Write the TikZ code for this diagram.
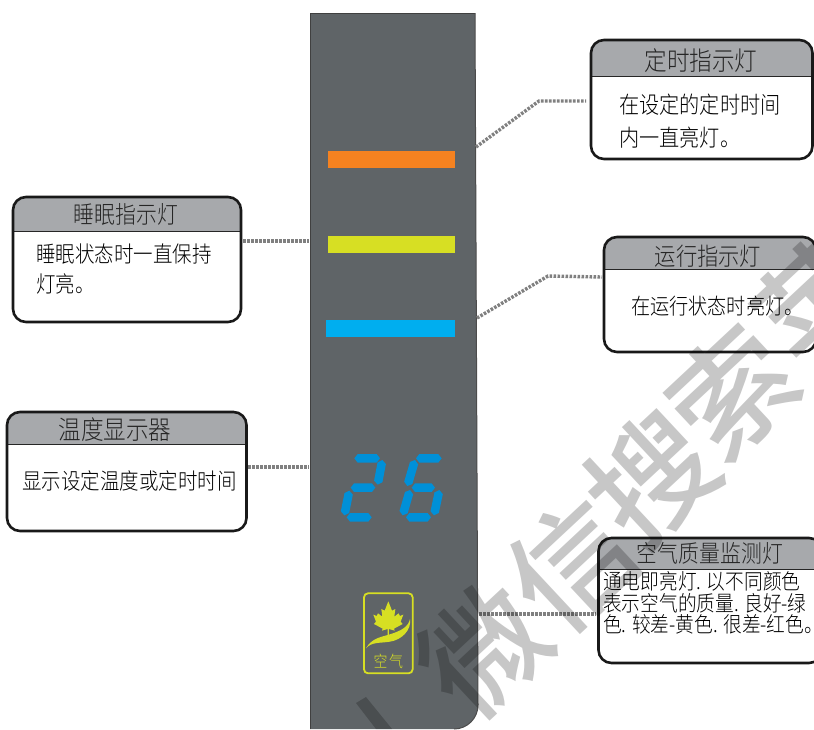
\documentclass[tikz,border=0pt]{standalone}
\usepackage{fontspec}
\usetikzlibrary{calc}
\newfontfamily\cjk{Noto Sans CJK SC Light}[FakeStretch=0.87]
\newfontfamily\cjkwm{Noto Sans CJK SC Medium}
\definecolor{panelc}{HTML}{5F6467}
\definecolor{headc}{HTML}{A7A9AC}
\definecolor{segc}{HTML}{0090D8}
\definecolor{logoc}{HTML}{D7DF23}
\newcommand\segm[2]{\fill[segc] (#1) -- ($(#1)!5.4pt!52:(#2)$) -- ($(#2)!5.4pt!-52:(#1)$) -- (#2) -- ($(#2)!5.4pt!52:(#1)$) -- ($(#1)!5.4pt!-52:(#2)$) -- cycle;}
\newcommand\cjksize[2]{\cjk\fontsize{#1}{#2}\selectfont}
\newcommand\infobox[9]{%
  % name, left, top, right, bottom, header bottom, title, title position, title size
  \node[boxshape, minimum width=#4pt-#2pt, minimum height=#5pt-#3pt] (#1) at ({(#2+#4)/2},{(#3+#5)/2}) {};
  \begin{scope}
    \clip[rounded corners=13pt] (#2,#3) rectangle (#4,#5);
    \fill[headc] (#2,#3) rectangle (#4,#6);
    \draw[line width=1pt,black!85] (#2,#6) -- (#4,#6);
  \end{scope}
  \draw[boxline, rounded corners=13pt] (#2,#3) rectangle (#4,#5);
  \node[titletext,font=\cjksize{#9}{30}] (#1t) at (#8) {#7};
}
\tikzset{
  x=1pt,y=-1pt,
  boxshape/.style={inner sep=0pt,outer sep=0pt,fill=white,rounded corners=13pt},
  boxline/.style={line width=2.6pt,draw=black!90},
  titletext/.style={text=black!85,inner sep=0pt},
  bodytext/.style={text=black,inner sep=0pt,anchor=north west,align=left},
  dots/.style={draw=black!50,line width=3.4pt,dash pattern=on 2.6pt off 1.4pt},
  lamp/.style={inner sep=0pt,outer sep=0pt,minimum height=17pt},
  wm/.style={font=\cjkwm\fontsize{122}{122}\selectfont,text=black,opacity=.22,rotate=43,inner sep=0pt},
}
\begin{document}
\begin{tikzpicture}
\useasboundingbox (0,0) rectangle (814,729);
\fill[white] (0,0) rectangle (814,729);
% panel
\fill[panelc] (310,13) -- (475,13) -- (478,705) arc[start angle=0,end angle=90,radius=24] -- (310,729) -- cycle;
\draw[line width=1pt,black!75] (310,729) -- (310,13) -- (475,13);
\draw[line width=1pt,black!70] (475,13) -- (478,705) arc[start angle=0,end angle=90,radius=24];
\coordinate (pL1) at (309,241);
\coordinate (pL2) at (309,467);
\coordinate (pR1) at (476,147);
\coordinate (pR2) at (477,318);
\coordinate (pR3) at (479,614);
% lamps
\node[lamp,fill={rgb,255:red,245;green,130;blue,32},minimum width=127pt] (lampA) at (391.5,159.5) {};
\node[lamp,fill=logoc,minimum width=127pt] (lampB) at (391.5,244.5) {};
\node[lamp,fill={rgb,255:red,0;green,174;blue,239},minimum width=129pt] (lampC) at (390.5,328.5) {};
% digits and logo (zoom coordinates)
\begin{scope}[shift={(300,440)},x=.3333pt,y=-.3333pt]
  \segm{163,55}{240,55}
  \segm{247,60}{233,134}
  \segm{152,143}{226,143}
  \segm{148,152}{133,226}
  \segm{140,232}{215,232}
  \segm{348,55}{425,55}
  \segm{345,60}{322,138}
  \segm{335,143}{405,143}
  \segm{418,150}{402,226}
  \segm{330,150}{308,226}
  \segm{318,232}{393,232}
  \draw[logoc,line width=1.8pt,rounded corners=4pt] (192,460) rectangle (338,700);
  \fill[logoc] (265,484) -- (276,512) -- (286,507) -- (283,530) -- (296,520) -- (300,528) -- (310,524) -- (302,545) -- (308,552) -- (282,566) -- (284,572) -- (267,567) -- (267,590) -- (263,590) -- (263,567) -- (246,572) -- (248,566) -- (222,552) -- (228,545) -- (220,524) -- (230,528) -- (234,520) -- (247,530) -- (244,507) -- (254,512) -- cycle;
  \fill[logoc] (198,625) .. controls (215,595) and (240,592) .. (270,583) .. controls (305,572) and (325,560) .. (330,537) .. controls (335,570) and (305,600) .. (270,605) .. controls (240,610) and (215,605) .. (198,625) -- cycle;
  \node[font=\cjksize{16}{16},text=logoc,inner sep=0pt] (logot) at (265,663) {空\hspace{1.5pt}气};
\end{scope}
% connectors
\coordinate (eT) at (586,101); \coordinate (bT) at (539,101);
\coordinate (eY) at (602,277); \coordinate (bY) at (548,276);
\coordinate (eS) at (243,241);
\coordinate (eW) at (248,467);
\coordinate (eK) at (596,614);
\draw[dots] (pR1) -- (bT) -- (eT);
\draw[dots] (pR2) -- (bY) -- (eY);
\draw[dots] (eS) -- (pL1);
\draw[dots] (eW) -- (pL2);
\draw[dots] (pR3) -- (eK);
% boxes
\infobox{boxS}{13}{197}{241}{322}{231}{睡眠指示灯}{126,214}{24}
\node[bodytext,font=\cjksize{22.4}{30}] (boxSb) at (36,244) {睡眠状态时一直保持\\灯亮。};
\infobox{boxW}{7}{412}{246.5}{531}{444}{温度显示器}{115,430}{26}
\node[bodytext,anchor=west,font=\cjksize{22.4}{30}] (boxWb) at (22,481) {显示设定温度或定时时间};
\infobox{boxT}{591}{40}{812.5}{159}{76}{定时指示灯}{701,61}{26}
\node[bodytext,font=\cjksize{23.2}{33}] (boxTb) at (619,94) {在设定的定时时间\\内一直亮灯。};
\infobox{boxY}{604}{237}{816}{352}{269}{运行指示灯}{708,256}{24.5}
\node[bodytext,anchor=west,font=\cjksize{22}{30}] (boxYb) at (631,306.5) {在运行状态时亮灯。};
\infobox{boxK}{598.5}{538}{822}{663}{569}{空气质量监测灯}{710,553}{24}
\node[bodytext,font=\cjksize{21.5}{21.6}] (boxKb) at (603,571.5) {通电即亮灯. 以不同颜色\\表示空气的质量. 良好-绿\\色. 较差-黄色. 很差-红色。};
% watermark
\node[wm] (wmA) at (484,650) {微};
\node[wm] (wmB) at (572,565) {信};
\node[wm] (wmC) at (652,478) {搜};
\node[wm] (wmD) at (732,392) {索};
\node[wm] (wmE) at (820,302) {苹};
\fill[black,opacity=.22] (356,703) -- (366,697) -- (392,729) -- (376,729) -- cycle;
\end{tikzpicture}
\end{document}
